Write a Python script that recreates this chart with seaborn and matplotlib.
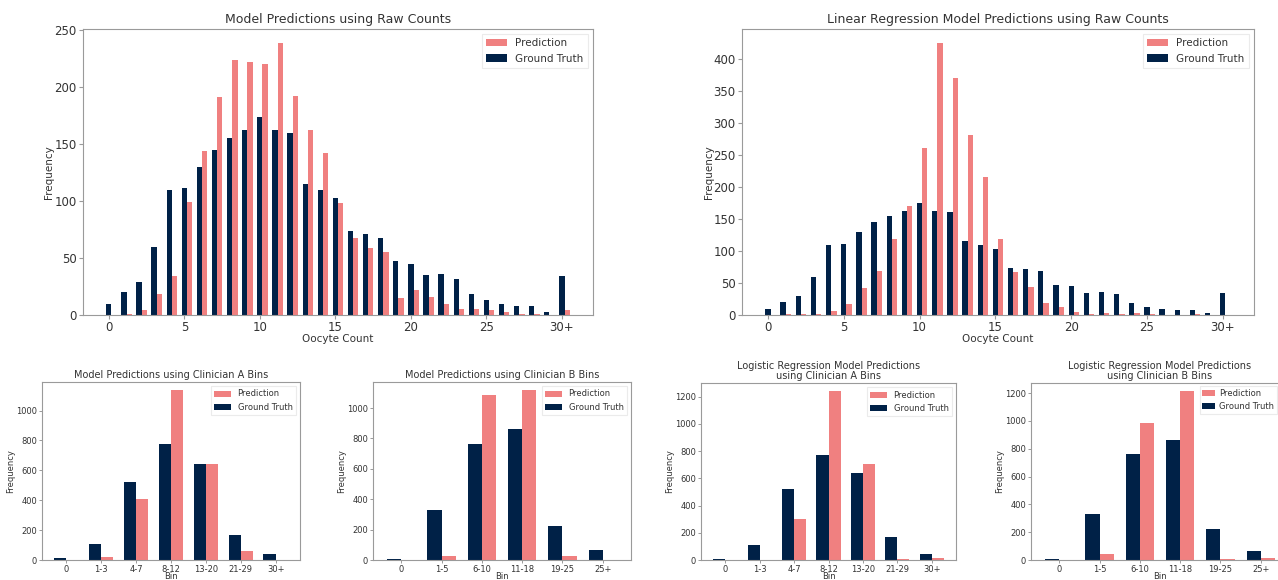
import matplotlib
matplotlib.use("Agg")
import matplotlib.pyplot as plt
import numpy as np
import pandas as pd
import seaborn as sns

# ---- data -----------------------------------------------------------------
raw_counts = list(range(31))
raw_tick_labels = ["0", "5", "10", "15", "20", "25", "30+"]

raw_truth = [10, 20, 29, 60, 110, 111, 130, 145, 155, 162, 174, 162, 160, 115, 110,
             103, 74, 71, 68, 47, 45, 35, 36, 32, 18, 13, 10, 8, 8, 3, 34]
raw_pred_model = [0, 1, 4, 18, 34, 99, 144, 191, 224, 222, 220, 239, 192, 162, 142,
                  98, 68, 59, 55, 15, 22, 16, 10, 5, 5, 4, 3, 1, 1, 0, 4]
raw_pred_linreg = [0, 1, 2, 2, 6, 17, 42, 69, 118, 170, 261, 425, 370, 281, 216,
                   119, 67, 44, 18, 13, 5, 1, 3, 2, 3, 1, 0, 0, 2, 0, 0]

bins_a = ["0", "1-3", "4-7", "8-12", "13-20", "21-29", "30+"]
truth_a = [11, 107, 521, 775, 641, 167, 42]
pred_model_a = [0, 20, 405, 1134, 641, 58, 0]
pred_logreg_a = [0, 2, 298, 1239, 702, 7, 12]

bins_b = ["0", "1-5", "6-10", "11-18", "19-25", "25+"]
truth_b = [9, 329, 765, 864, 226, 64]
pred_model_b = [0, 29, 1086, 1116, 29, 0]
pred_logreg_b = [0, 43, 988, 1212, 5, 14]

PRED_COLOR = "#F08080"
TRUTH_COLOR = "#002147"
BAR_W = 0.35

sns.set_style("ticks")
plt.rcParams["font.family"] = ["DejaVu Sans"]
plt.rcParams["axes.edgecolor"] = "#9a9a9a"
plt.rcParams["xtick.color"] = "#9a9a9a"
plt.rcParams["ytick.color"] = "#9a9a9a"
plt.rcParams["xtick.labelcolor"] = "#333333"
plt.rcParams["ytick.labelcolor"] = "#333333"
plt.rcParams["text.color"] = "#333333"
plt.rcParams["axes.labelcolor"] = "#333333"

W, H = 1278, 580
fig = plt.figure(figsize=(W / 100, H / 100), dpi=100)


def px_axes(left, top, right, bottom):
    return fig.add_axes([left / W, 1 - bottom / H, (right - left) / W, (bottom - top) / H])


def legend(ax, size, **kw):
    handles, labels = ax.get_legend_handles_labels()
    order = [labels.index("Prediction"), labels.index("Ground Truth")]
    leg = ax.legend([handles[i] for i in order], [labels[i] for i in order],
                    fontsize=size, frameon=True, fancybox=False,
                    edgecolor="#e6e6e6", **kw)
    leg.get_frame().set_linewidth(0.8)


def raw_panel(ax, truth, pred, title):
    x = np.array(raw_counts, dtype=float)
    df_t = pd.DataFrame({"x": x, "y": truth})
    df_p = pd.DataFrame({"x": x + BAR_W, "y": pred})
    sns.barplot(data=df_p, x="x", y="y", native_scale=True, width=BAR_W,
                color=PRED_COLOR, saturation=1, errorbar=None, linewidth=0,
                label="Prediction", ax=ax)
    sns.barplot(data=df_t, x="x", y="y", native_scale=True, width=BAR_W,
                color=TRUTH_COLOR, saturation=1, errorbar=None, linewidth=0,
                label="Ground Truth", ax=ax)
    ax.set_xticks(raw_counts[::5])
    ax.set_xticklabels(raw_tick_labels)
    span = (x[-1] + 1.5 * BAR_W) - (x[0] - 0.5 * BAR_W)
    ax.set_xlim(x[0] - 0.5 * BAR_W - 0.05 * span, x[-1] + 1.5 * BAR_W + 0.05 * span)
    ax.set_ylim(0, max(max(truth), max(pred)) * 1.05)
    ax.set_title(title, fontsize=9, pad=4)
    ax.set_xlabel("Oocyte Count", fontsize=7.5, labelpad=0)
    ax.set_ylabel("Frequency", fontsize=7.5, labelpad=0)
    ax.tick_params(labelsize=8.5, length=3, width=0.8, pad=1.5)
    legend(ax, 7.5, loc="upper right")


def bin_panel(ax, bins, truth, pred, title, legend_kw=None):
    df = pd.DataFrame({
        "Bin": bins * 2,
        "Frequency": list(truth) + list(pred),
        "series": ["Ground Truth"] * len(bins) + ["Prediction"] * len(bins),
    })
    sns.barplot(data=df, x="Bin", y="Frequency", hue="series",
                hue_order=["Ground Truth", "Prediction"],
                palette={"Ground Truth": TRUTH_COLOR, "Prediction": PRED_COLOR},
                width=2 * BAR_W, saturation=1, errorbar=None, linewidth=0,
                order=bins, ax=ax)
    n = len(bins)
    ax.set_xlim(-0.7, n - 1 + 0.7)
    ax.set_ylim(0, max(max(truth), max(pred)) * 1.05)
    ax.set_title(title, fontsize=7, pad=3, linespacing=1.0)
    ax.set_xlabel("Bin", fontsize=6, labelpad=-1)
    ax.set_ylabel("Frequency", fontsize=6, labelpad=1)
    ax.tick_params(labelsize=6, length=2.5, width=0.7, pad=1)
    legend(ax, 6, **(legend_kw or {"loc": "upper right"}))


ax1 = px_axes(83, 29, 593, 315)
raw_panel(ax1, raw_truth, raw_pred_model, "Model Predictions using Raw Counts")

ax2 = px_axes(742, 29, 1254, 315)
raw_panel(ax2, raw_truth, raw_pred_linreg, "Linear Regression Model Predictions using Raw Counts")

ax3 = px_axes(42, 382, 300, 560)
bin_panel(ax3, bins_a, truth_a, pred_model_a, "Model Predictions using Clinician A Bins")

ax4 = px_axes(373, 382, 631, 560)
bin_panel(ax4, bins_b, truth_b, pred_model_b, "Model Predictions using Clinician B Bins")

ax5 = px_axes(701, 383, 956, 560)
bin_panel(ax5, bins_a, truth_a, pred_logreg_a,
          "Logistic Regression Model Predictions\nusing Clinician A Bins")

ax6 = px_axes(1031, 383, 1289, 560)
bin_panel(ax6, bins_b, truth_b, pred_logreg_b,
          "Logistic Regression Model Predictions\nusing Clinician B Bins",
          legend_kw={"loc": "upper right",
                     "bbox_to_anchor": (1 - 1 / W, 1 - 386 / H),
                     "bbox_transform": fig.transFigure,
                     "handlelength": 1.5, "handletextpad": 0.5,
                     "borderpad": 0.35, "borderaxespad": 0})

fig.savefig("out.png", dpi=100, facecolor="white")
